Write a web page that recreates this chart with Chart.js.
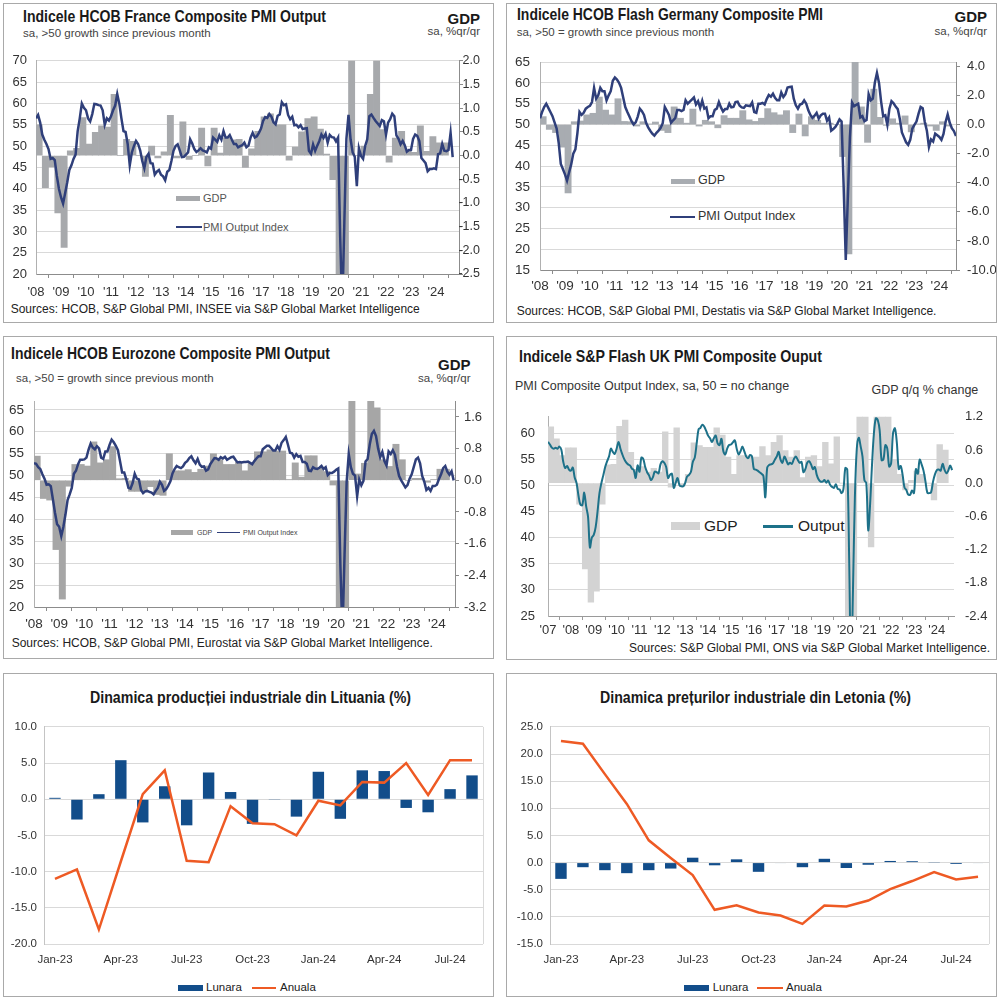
<!DOCTYPE html>
<html><head><meta charset="utf-8">
<script src="https://cdn.jsdelivr.net/npm/chart.js@4.4.1/dist/chart.umd.min.js"></script>
<style>
html,body{margin:0;padding:0;background:#fff;}
#page{position:relative;width:1000px;height:998px;overflow:hidden;font-family:"Liberation Sans",Arial,sans-serif;}
.panel{position:absolute;border:1px solid #a9a9a9;box-sizing:border-box;}
.t{position:absolute;white-space:nowrap;line-height:1;}
.sw{position:absolute;}
canvas{position:absolute;}
</style></head><body><div id="page"></div>
<script>
// ---------------- DATA ----------------
// France composite PMI output, monthly from Jan 2008
const frPmi = [
56.5,57.3,55.5,52.7,51.5,50.5,49.3,47.0,47.2,46.7,43.0,40.0,
38.0,36.5,39.0,41.5,44.4,45.5,47.0,48.0,53.5,56.5,60.0,59.0,
58.4,56.5,55.8,57.5,59.9,59.8,59.6,59.5,58.4,55.0,56.5,56.0,
57.0,58.4,59.5,62.2,59.9,56.5,53.5,53.3,50.5,45.5,48.5,50.0,
51.2,50.5,49.0,46.5,44.8,47.5,48.2,46.0,45.9,43.3,44.0,44.4,
43.3,42.9,42.0,44.0,44.4,46.5,48.9,50.0,50.4,49.0,47.4,47.5,
48.0,48.5,51.6,50.6,49.3,48.6,49.0,49.5,49.0,48.8,48.5,49.7,
49.4,52.0,51.5,51.0,52.5,51.5,53.5,52.0,52.0,52.6,51.5,50.5,
50.5,49.7,50.0,50.2,50.8,49.7,50.1,52.0,53.1,52.0,52.3,53.1,
54.1,55.9,56.8,56.6,57.5,56.9,55.6,55.1,57.1,57.4,60.3,59.6,
59.8,57.3,56.3,56.9,54.9,55.0,54.4,54.9,54.0,54.1,54.2,48.9,
48.2,50.4,48.9,50.1,51.2,52.7,51.9,52.9,50.8,52.6,52.1,52.0,
51.1,52.0,28.9,11.1,32.1,51.7,57.3,51.6,48.5,47.5,40.6,49.5,
47.7,47.0,50.0,51.6,57.0,57.4,56.6,55.9,55.3,54.7,56.1,55.8,
52.7,55.5,56.3,57.6,57.0,52.5,51.7,50.4,51.2,50.2,48.7,49.1,
49.1,51.7,52.7,52.4,51.2,47.2,46.6,46.0,44.1,44.6,44.6,44.8,
44.6,48.1,48.3,50.5,48.9,48.8,49.1,53.1,47.4];
// France GDP q/q %, quarterly from 2008 Q1
const frGdp = [
0.65,-0.68,-0.24,-1.21, -1.94,0.1,0.15,0.8, 0.24,0.49,0.63,0.6, 1.29,0.0,0.34,0.3,
0.0,-0.44,0.2,-0.05, 0.08,0.85,-0.05,0.71, -0.08,0.0,0.58,-0.22, 0.58,0.05,0.37,0.33,
0.34,-0.25,0.14,0.51, 0.82,0.88,0.65,0.65, -0.1,0.18,0.5,0.78, 0.82,0.56,0.03,-0.51,
-5.5,-13.5,18.5,0.0, 0.2,1.29,3.0,0.55, -0.14,0.37,0.51,0.1, 0.07,0.63,0.09,0.4, 0.27,0.27];

// Germany flash composite PMI, monthly from Jan 2008
const dePmi = [
51.5,53.0,54.2,55.0,54.0,53.0,52.0,50.5,49.0,45.5,40.5,39.3,
38.0,36.5,38.5,40.4,43.0,44.0,48.0,53.0,52.3,52.8,53.8,54.2,
54.5,55.4,58.8,56.2,57.0,58.8,58.0,58.0,55.8,57.0,58.0,60.5,
61.3,60.8,60.0,58.8,56.5,54.2,53.0,51.9,50.8,50.0,50.5,51.9,
53.8,53.2,52.3,50.4,49.3,48.5,47.8,47.3,48.0,48.5,49.2,50.3,
54.2,53.3,52.3,50.4,51.0,51.5,53.5,53.5,53.2,53.5,55.8,55.0,
55.5,56.0,56.5,54.8,55.6,54.0,55.7,53.8,54.1,51.5,52.0,52.0,
53.5,53.8,55.4,54.1,53.1,53.7,53.7,55.0,54.1,54.2,55.4,55.5,
54.5,54.1,54.0,54.6,54.5,54.4,55.3,53.0,52.8,55.0,55.0,55.2,
54.8,56.1,57.1,56.7,57.4,56.4,55.8,55.8,57.7,56.6,57.3,58.9,
59.0,59.1,56.2,54.6,53.8,54.8,55.0,55.8,55.0,53.4,52.3,51.6,
52.1,52.8,51.4,52.2,52.6,52.6,50.9,51.7,48.5,48.9,49.4,50.2,
51.2,50.7,35.0,17.4,32.3,47.0,55.3,54.4,54.7,55.0,51.7,52.0,
50.8,51.1,57.3,55.8,56.2,60.1,62.4,60.0,55.5,52.0,52.2,49.9,
53.8,55.6,55.1,54.3,53.7,51.3,48.1,46.9,45.7,45.1,46.3,49.0,
49.9,50.7,52.6,54.2,53.9,50.6,48.5,44.6,46.4,45.9,47.8,47.4,
47.0,46.3,47.7,50.6,52.4,50.4,49.1,48.4,47.2];
const deGdp = [
0.55,-0.33,-0.55,-1.55, -4.7,0.2,0.25,0.67, 0.78,1.9,1.0,0.67, 1.78,0.22,0.2,-0.1,
0.2,0.05,0.18,-0.4, -0.55,1.22,0.44,0.1, 1.07,-0.1,0.3,0.2, -0.22,0.62,0.44,0.44,
0.96,0.33,0.22,0.44, 1.1,0.82,0.67,0.96, -0.55,0.73,-0.78,0.55, 0.3,0.1,0.1,0.0,
-2.2,-8.9,8.7,1.22, -1.22,2.44,0.5,-0.05, 0.4,0.1,0.6,-0.5, 0.05,0.1,-0.1,-0.4, 0.2,-0.1];

// Eurozone composite PMI output, monthly from Jan 2008
const ezPmi = [
52.8,52.7,51.9,51.5,50.3,49.3,47.9,48.0,47.6,44.6,41.5,38.9,
38.3,36.2,38.3,41.1,44.4,45.7,47.2,50.4,51.1,52.6,53.6,53.6,
53.7,54.1,55.9,57.3,56.4,56.0,56.7,56.2,54.1,53.8,55.5,55.5,
57.0,58.2,57.6,56.8,55.8,53.3,50.7,50.7,49.1,47.2,47.0,48.3,
50.4,49.3,49.1,46.7,46.0,46.4,46.5,46.3,46.1,45.7,46.5,47.2,
48.6,47.9,46.5,46.9,47.7,48.7,50.5,51.5,52.2,51.9,51.7,52.1,
52.9,53.3,54.0,54.4,53.5,52.8,53.8,52.5,52.0,52.1,51.1,51.4,
52.6,53.3,54.0,53.9,53.6,54.2,53.9,54.3,53.6,53.9,54.2,54.3,
53.6,53.0,53.1,53.0,53.1,53.1,53.2,52.9,52.6,53.3,53.9,54.4,
54.4,56.0,56.4,56.8,56.8,56.3,55.7,55.7,56.7,55.9,57.5,58.1,
58.8,57.1,55.2,55.1,54.1,54.9,54.3,54.5,53.1,53.1,52.7,51.1,
51.0,51.9,51.6,51.5,51.8,52.2,51.5,51.9,50.1,50.6,50.6,50.9,
51.3,51.6,29.7,13.6,31.9,48.5,54.9,51.9,50.4,50.0,45.3,49.1,
47.8,48.8,53.2,53.8,57.1,59.5,60.2,59.0,56.2,54.2,55.4,53.3,
52.3,55.5,54.9,55.8,54.8,52.0,49.9,48.9,48.1,47.3,47.8,49.3,
50.3,52.0,53.7,54.1,52.8,49.9,48.6,46.7,47.2,46.5,47.6,47.6,
47.9,49.2,50.3,51.7,52.2,50.9,50.2,51.0,48.9];
const ezGdp = [
0.61,-0.46,-0.5,-1.75, -3.0,-0.15,0.4,0.4, 0.36,0.97,0.44,0.52, 0.85,0.04,0.05,-0.28,
-0.28,-0.28,-0.16,-0.36, -0.38,0.67,0.24,0.24, 0.27,0.2,0.28,0.36, 0.67,0.52,0.4,0.4,
0.46,0.24,0.44,0.72, 0.72,0.77,0.74,0.74, 0.02,0.44,0.08,0.62, 0.62,0.32,0.22,-0.12,
-3.6,-11.0,12.0,0.16, 0.43,2.2,1.83,0.52, 0.35,0.91,0.52,0.0, 0.05,0.05,-0.05,0.02, 0.28,0.28];

// UK composite PMI output, monthly from Jan 2007
const ukPmi = [
58.3,57.8,57.2,57.0,57.2,57.0,57.4,56.8,54.5,53.3,53.7,53.0,
52.8,53.4,51.5,50.4,48.0,46.3,46.2,48.6,46.0,44.0,38.1,40.0,
40.5,42.0,45.0,48.5,50.4,51.9,53.5,54.6,55.5,57.0,56.4,56.0,
57.0,58.3,57.0,55.9,55.0,54.4,54.0,53.8,53.2,52.9,51.4,53.8,
52.6,55.3,55.0,53.5,52.5,51.9,51.0,51.5,52.6,52.5,52.3,54.0,
54.6,54.3,53.5,51.4,52.0,52.2,49.5,50.5,51.4,50.0,49.8,49.8,
50.5,51.7,52.0,52.6,54.5,55.3,58.0,60.7,61.0,61.6,61.2,60.4,
59.5,59.0,58.3,59.0,59.5,58.0,57.7,58.9,56.5,55.9,57.0,57.7,
57.8,58.2,58.6,57.0,55.9,56.5,57.4,56.5,55.5,55.2,55.8,55.5,
53.1,53.0,52.8,52.5,52.2,51.8,47.7,53.4,53.9,54.0,54.2,54.9,
55.5,56.4,54.9,54.3,55.5,54.8,54.0,54.3,54.1,55.0,55.5,54.9,
54.3,54.5,52.5,53.1,54.3,54.6,54.0,53.1,53.5,52.0,51.1,50.7,
50.7,51.0,50.5,50.9,50.1,49.7,49.5,50.2,49.3,49.2,48.5,49.3,
53.3,53.0,36.0,13.8,30.0,47.7,57.0,59.1,57.5,55.5,51.0,50.4,
41.4,46.5,54.0,60.0,62.8,62.5,60.5,54.8,55.0,57.7,57.0,53.6,
54.2,59.9,60.9,58.2,53.1,53.7,52.1,49.6,49.1,48.2,48.2,49.0,
48.5,53.1,52.2,54.9,54.0,52.8,50.8,48.6,48.5,48.7,50.7,52.1,
52.9,53.0,52.8,54.1,53.0,52.3,52.8,53.8,52.9];
// UK GDP q/q %, quarterly from 2007 Q1
const ukGdp = [
1.02,0.8,0.5,0.64, 0.64,-0.38,-1.55,-2.15, -1.95,-0.38,0.33,0.34, 1.03,1.14,0.56,0.25,
0.3,0.2,0.27,0.2, 0.93,-0.07,1.0,-0.05, 0.16,0.73,0.68,0.65, 0.65,1.0,0.87,0.47,
0.16,0.5,0.5,0.47, 0.47,0.66,0.5,0.74, 0.86,0.59,0.47,0.59, 0.1,0.47,0.5,0.3,
0.74,0.35,0.84,0.0, -2.6,-19.0,16.0,1.3, -1.15,6.5,1.7,1.5, 0.42,0.16,-0.12,0.05,
0.22,0.16,0.0,-0.3, 0.7,0.6];

// Bottom charts: months Jan-23 .. Aug-24
const months = ['Jan-23','Feb-23','Mar-23','Apr-23','May-23','Jun-23','Jul-23','Aug-23','Sep-23','Oct-23','Nov-23','Dec-23',
                'Jan-24','Feb-24','Mar-24','Apr-24','May-24','Jun-24','Jul-24','Aug-24'];
const ltLunara = [0.2,-2.8,0.7,5.4,-3.2,1.8,-3.6,3.7,1.0,-3.4,-0.1,-2.4,3.8,-2.7,4.0,3.9,-1.2,-1.8,1.4,3.3];
const ltAnuala = [-11.0,-9.7,-18.0,-8.6,0.7,4.0,-8.5,-8.7,-0.95,-3.3,-3.45,-5.0,-0.2,-0.85,2.4,2.3,5.0,0.6,5.4,5.4];
const lvLunara = [-3.0,-0.85,-1.4,-1.95,-1.4,-1.1,0.9,-0.5,0.6,-1.7,-0.1,-0.85,0.7,-1.0,-0.4,0.3,0.25,0.05,-0.25,-0.1];
const lvAnuala = [22.4,21.9,16.3,10.8,4.1,0.85,-2.3,-8.7,-7.85,-9.2,-9.75,-11.3,-7.9,-8.1,-7.0,-4.9,-3.4,-1.75,-3.1,-2.6];

// tick values
const years08 = [2008,2009,2010,2011,2012,2013,2014,2015,2016,2017,2018,2019,2020,2021,2022,2023,2024];
const years07 = [2007].concat(years08);
const frLeftTicks = [20,25,30,35,40,45,50,55,60,65,70];
const frRightTicks = [-2.5,-2.0,-1.5,-1.0,-0.5,0.0,0.5,1.0,1.5,2.0];
const deLeftTicks = [15,20,25,30,35,40,45,50,55,60,65];
const deRightTicks = [-10,-8,-6,-4,-2,0,2,4];
const ezLeftTicks = [20,25,30,35,40,45,50,55,60,65];
const ezRightTicks = [-3.2,-2.4,-1.6,-0.8,0.0,0.8,1.6];
const ukLeftTicks = [25,30,35,40,45,50,55,60];
const ukRightTicks = [-2.4,-1.8,-1.2,-0.6,0.0,0.6,1.2];

// ---------------- LAYOUT HELPERS ----------------
const page = document.getElementById('page');
const FONT = '"Liberation Sans", Arial, sans-serif';
const NARROW = '"Liberation Sans Narrow","Arial Narrow","Liberation Sans",Arial,sans-serif';

function panel(x1,y1,x2,y2){
  const d=document.createElement('div');d.className='panel';
  d.style.left=x1+'px';d.style.top=y1+'px';d.style.width=(x2-x1)+'px';d.style.height=(y2-y1)+'px';
  page.appendChild(d);
}
function txt(s,x,base,size,o){
  o=o||{};
  const d=document.createElement('div');d.className='t';d.textContent=s;
  d.style.fontSize=size+'px';d.style.top=(base-0.8465*size)+'px';
  d.style.fontFamily=o.family||FONT;
  if(o.bold)d.style.fontWeight='bold';
  d.style.color=o.color||'#222';
  d.style.left='0px';
  page.appendChild(d);
  const w=d.getBoundingClientRect().width;
  let ew=w;
  if(o.fitW){const sx=o.fitW/w;d.style.transformOrigin='0 0';d.style.transform='scaleX('+sx+')';ew=o.fitW;}
  if(o.align==='right')d.style.left=(x-ew)+'px';
  else if(o.align==='center')d.style.left=(x-ew/2)+'px';
  else d.style.left=x+'px';
}
function box(x1,y1,x2,y2,c){
  const d=document.createElement('div');d.className='sw';
  d.style.left=x1+'px';d.style.top=y1+'px';d.style.width=(x2-x1)+'px';d.style.height=(y2-y1)+'px';d.style.background=c;
  page.appendChild(d);
}
function mkCanvas(cx,cy,cw,ch){
  const c=document.createElement('canvas');c.width=cw;c.height=ch;
  c.style.left=cx+'px';c.style.top=cy+'px';c.style.width=cw+'px';c.style.height=ch+'px';
  page.appendChild(c);return c;
}
const fmt1=v=>(Math.abs(v)<1e-9?0:v).toFixed(1);

function dualChart(o){
  const cv=mkCanvas(o.cx,o.cy,o.cw,o.ch);
  const pmiPts=o.pmi.map((v,i)=>({x:o.start+i/12,y:v}));
  const gdpPts=o.gdp.map((v,i)=>({x:o.start+i/4+0.125,y:v}));
  const axisC=o.axisColor||'#8c8c8c';
  new Chart(cv,{
    type:'line',
    data:{datasets:[
      {type:'line',data:pmiPts,xAxisID:'x',yAxisID:'y',borderColor:o.lineColor,borderWidth:o.lineWidth,pointRadius:0,tension:o.tension||0,order:0},
      {type:'bar',data:gdpPts,xAxisID:'x',yAxisID:'y1',backgroundColor:o.barColor,borderWidth:0,barPercentage:1,categoryPercentage:1,order:1}
    ]},
    options:{
      responsive:false,animation:false,parsing:true,
      layout:{padding:{top:o.py1-o.cy,left:0,right:0,bottom:0}},
      plugins:{legend:{display:false},tooltip:{enabled:false}},
      scales:{
        x:{type:'linear',min:o.xmin,max:o.xmax,offset:false,
          afterBuildTicks:s=>{s.ticks=o.years.map(v=>({value:v}));},
          ticks:{autoSkip:false,maxRotation:0,padding:o.xPad,color:'#333',font:{family:FONT,size:o.xSize},
            callback:v=>"'"+String(Math.round(v)%100).padStart(2,'0')},
          grid:{drawOnChartArea:false,drawTicks:true,tickLength:4,color:axisC},
          border:{display:true,color:axisC},
          afterFit:s=>{s.height=o.cy+o.ch-o.py2;}},
        y:{position:'left',min:o.yL.min,max:o.yL.max,
          afterBuildTicks:s=>{s.ticks=o.yL.ticks.map(v=>({value:v}));},
          ticks:{padding:o.yL.pad,color:'#333',font:{family:FONT,size:o.yL.size},callback:v=>String(v)},
          grid:{color:'#d9d9d9',drawTicks:false},
          border:{display:true,color:o.leftAxisColor||axisC},
          afterFit:s=>{s.width=o.px1-o.cx;}},
        y1:{position:'right',min:o.yR.min,max:o.yR.max,
          afterBuildTicks:s=>{s.ticks=o.yR.ticks.map(v=>({value:v}));},
          ticks:{padding:o.yR.pad,crossAlign:o.yR.cross,color:'#333',font:{family:FONT,size:o.yR.size},callback:v=>fmt1(v)},
          grid:{drawOnChartArea:false,drawTicks:o.yR.tl>0,tickLength:o.yR.tl||0,color:axisC},
          border:{display:o.yR.border,color:axisC},
          afterFit:s=>{s.width=o.cx+o.cw-o.px2;}}
      }
    }
  });
}

const framePlugin={id:'frame',afterDraw(ch,args,opts){
  const a=ch.chartArea,c=ch.ctx;c.save();c.strokeStyle=opts.color||'#d9d9d9';c.lineWidth=1;
  c.beginPath();c.moveTo(Math.round(a.right)+0.5,a.top);c.lineTo(Math.round(a.right)+0.5,a.bottom);c.stroke();c.restore();}};

function bottomChart(o){
  const cv=mkCanvas(o.cx,o.cy,o.cw,o.ch);
  new Chart(cv,{
    type:'bar',
    data:{labels:months,datasets:[
      {type:'line',data:o.anual,borderColor:'#ee5a24',borderWidth:2.5,pointRadius:0,tension:0,order:0},
      {type:'bar',data:o.lunar,backgroundColor:'#124d8a',borderWidth:0,barPercentage:0.52,categoryPercentage:1,order:1}
    ]},
    plugins:[framePlugin],
    options:{
      responsive:false,animation:false,
      layout:{padding:{top:o.py1-o.cy,left:0,right:o.cx+o.cw-o.px2,bottom:0}},
      plugins:{legend:{display:false},tooltip:{enabled:false},frame:{color:'#d9d9d9'}},
      scales:{
        x:{grid:{display:false},border:{display:false},
          ticks:{autoSkip:false,maxRotation:0,padding:o.xPad,color:'#333',font:{family:FONT,size:11.5},
            callback:(v,i)=>(i%3===0?months[i]:'')},
          afterFit:s=>{s.height=o.cy+o.ch-o.py2;}},
        y:{min:o.ymin,max:o.ymax,
          afterBuildTicks:s=>{const t=[];for(let v=o.ymin;v<=o.ymax+1e-9;v+=5)t.push({value:v});s.ticks=t;},
          ticks:{padding:o.yPad,color:'#333',font:{family:FONT,size:11.5},callback:v=>fmt1(v)},
          grid:{color:'#d9d9d9',drawTicks:false},
          border:{display:true,color:'#c4c4c4'},
          afterFit:s=>{s.width=o.px1-o.cx;}}
      }
    }
  });
}

// ---------------- PANELS ----------------
panel(3,3,494,323); panel(506,3,997,323);
panel(3,336,494,659); panel(506,336,997,660);
panel(3,673,494,997); panel(506,673,997,997);

// France
txt('Indicele HCOB France Composite PMI Output',23,22.7,17,{bold:true,family:NARROW,fitW:303,color:'#1a1a1a'});
txt('sa, >50 growth since previous month',23,38,11.5,{color:'#444'});
txt('GDP',480,24,15,{bold:true,align:'right',color:'#1a1a1a'});
txt('sa, %qr/qr',480,36,11.5,{align:'right',color:'#444'});
txt('Sources: HCOB, S&P Global PMI, INSEE via S&P Global Market  Intelligence',10.7,313,12,{color:'#222'});
box(176,196,200,201,'#a7a9ac'); txt('GDP',203,202,11,{color:'#555'});
box(176,225.5,202,228,'#2f3f7a'); txt('PMI Output Index',203,231,11,{color:'#555'});
dualChart({cx:3,cy:44,cw:477,ch:256,px1:36,px2:459,py1:54,py2:274,start:2008,pmi:frPmi,gdp:frGdp,
  xmin:2008,xmax:2024.92,years:years08,xPad:7,xSize:13,
  yL:{min:20,max:70,ticks:frLeftTicks,pad:9,size:13},
  yR:{min:-2.5,max:2.0,ticks:frRightTicks,pad:0,cross:'far',tl:4,border:true,size:12.5},
  lineColor:'#2f3f7a',lineWidth:2.5,barColor:'#a7a9ac',leftAxisColor:'#b0b0b0'});

// Germany
txt('Indicele HCOB Flash Germany Composite PMI',516.7,20,17,{bold:true,family:NARROW,fitW:306,color:'#1a1a1a'});
txt('sa, >50 = growth since previous month',516.7,36.7,11.5,{color:'#444'});
txt('GDP',987,21.7,15,{bold:true,align:'right',color:'#1a1a1a'});
txt('sa, %qr/qr',987,35.7,11.5,{align:'right',color:'#444'});
txt('Sources: HCOB, S&P Global PMI, Destatis via S&P Global Market Intelligence.',516.7,315,12,{color:'#222'});
box(671,178.5,695,183.5,'#a8acb1'); txt('GDP',698,185,12.5,{color:'#333'});
box(670,215.5,695,218,'#2f3f7a'); txt('PMI Output Index',698,221,12.5,{color:'#333'});
dualChart({cx:507,cy:44,cw:489,ch:256,px1:540,px2:956,py1:53,py2:270,start:2008,pmi:dePmi,gdp:deGdp,
  xmin:2008,xmax:2024.667,years:years08,xPad:4,xSize:13.5,
  yL:{min:15,max:65,ticks:deLeftTicks,pad:10,size:13.5},
  yR:{min:-10,max:4.3,ticks:deRightTicks,pad:7,cross:'near',tl:4,border:true,size:13},
  lineColor:'#2f3f7a',lineWidth:2.5,barColor:'#a8acb1',leftAxisColor:'#b0b0b0'});

// Eurozone
txt('Indicele HCOB Eurozone Composite PMI Output',10.7,359.3,17,{bold:true,family:NARROW,fitW:319,color:'#1a1a1a'});
txt('sa, >50 = growth since previous month',16,382.7,11.5,{color:'#444'});
txt('GDP',470.5,369.3,15,{bold:true,align:'right',color:'#1a1a1a'});
txt('sa, %qr/qr',470.5,382.7,11.5,{align:'right',color:'#444'});
txt('Sources: HCOB, S&P Global  PMI,  Eurostat via S&P Global  Market  Intelligence.',11.7,646.7,12,{color:'#222'});
box(171,530,193,534.5,'#a6a6a6'); txt('GDP',197,534.8,7,{color:'#444'});
box(217,531.5,240,533,'#2f3f7a'); txt('PMI Output Index',243,534.8,7,{color:'#444'});
dualChart({cx:4,cy:383,cw:488,ch:252,px1:34,px2:455,py1:393,py2:607,start:2008,pmi:ezPmi,gdp:ezGdp,
  xmin:2008,xmax:2024.72,years:years08,xPad:5,xSize:13.5,
  yL:{min:20,max:67,ticks:ezLeftTicks,pad:10,size:13.5},
  yR:{min:-3.2,max:2.0,ticks:ezRightTicks,pad:5,cross:'near',tl:4,border:true,size:13},
  lineColor:'#2f3f7a',lineWidth:2.5,barColor:'#a6a6a6',leftAxisColor:'#b0b0b0'});

// UK
txt('Indicele S&P Flash UK PMI Composite Ouput',519.3,362.3,17,{bold:true,family:NARROW,fitW:303,color:'#1a1a1a'});
txt('PMI Composite  Output Index, sa, 50 = no change',515,391,12.5,{color:'#333'});
txt('GDP  q/q % change',978.3,394.3,12.5,{align:'right',color:'#333'});
txt('Sources: S&P Global PMI, ONS via S&P Global Market Intelligence.',990,651.7,12,{align:'right',color:'#222'});
box(671,522,700,530,'#d3d3d3'); txt('GDP',704,531.6,15.5,{color:'#222'});
box(763,525,793,527.5,'#1d7189'); txt('Output',798,531.6,15.5,{color:'#222'});
dualChart({cx:507,cy:396,cw:489,ch:244,px1:548,px2:954,py1:405,py2:616,start:2007,pmi:ukPmi,gdp:ukGdp,
  xmin:2007,xmax:2024.75,years:years07,xPad:3,xSize:13,
  yL:{min:25,max:63.1,ticks:ukLeftTicks,pad:13,size:13},
  yR:{min:-2.4,max:1.2,ticks:ukRightTicks,pad:11,cross:'near',tl:0,border:false,size:13},
  lineColor:'#1d7189',lineWidth:2,tension:0.35,barColor:'#d3d3d3',axisColor:'#9a9a9a',leftAxisColor:'#b0b0b0'});

// Lithuania
txt('Dinamica producției industriale din Lituania (%)',250,702.7,16.5,{bold:true,family:NARROW,fitW:321,align:'center',color:'#1a1a1a'});
box(178,985,203,990.5,'#124d8a'); txt('Lunara',206,991.8,11.5,{color:'#222'});
box(252,986.5,276,989,'#ee5a24'); txt('Anuala',280,991.8,11.5,{color:'#222'});
bottomChart({cx:4,cy:713,cw:489,ch:262,px1:44,px2:483,py1:723,py2:944,ymin:-20,ymax:10,yPad:7,xPad:1,lunar:ltLunara,anual:ltAnuala});

// Latvia
txt('Dinamica prețurilor industriale din Letonia (%)',755.3,702.7,16.5,{bold:true,family:NARROW,fitW:311,align:'center',color:'#1a1a1a'});
box(684,985,709,990.5,'#124d8a'); txt('Lunara',712.7,991.8,11.5,{color:'#222'});
box(757,986.5,783,989,'#ee5a24'); txt('Anuala',786,991.8,11.5,{color:'#222'});
bottomChart({cx:507,cy:713,cw:489,ch:262,px1:550,px2:989,py1:723,py2:944,ymin:-15,ymax:25,yPad:7,xPad:1,lunar:lvLunara,anual:lvAnuala});
</script>
</body></html>
